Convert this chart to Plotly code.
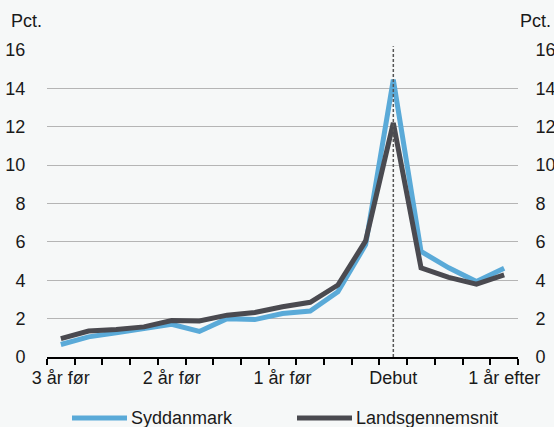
import plotly.graph_objects as go

# Data
x_idx = list(range(17))
tick_pos = [0, 4, 8, 12, 16]
tick_labels = ["3 år før", "2 år før", "1 år før", "Debut", "1 år efter"]
syddanmark = [0.65, 1.05, 1.26, 1.45, 1.7, 1.33, 2.0, 1.95, 2.27, 2.4, 3.4, 5.85, 14.45, 5.5, 4.65, 3.93, 4.63]
landsgennemsnit = [0.96, 1.35, 1.43, 1.57, 1.9, 1.88, 2.18, 2.32, 2.62, 2.85, 3.75, 6.05, 12.2, 4.65, 4.15, 3.8, 4.28]
y_ticks = [0, 2, 4, 6, 8, 10, 12, 14, 16]

BLUE = "#5aaad8"
DARK = "#4a4a50"
BG = "#f6f8f8"
FONT = "Liberation Sans, Arial, sans-serif"

fig = go.Figure()
fig.add_trace(go.Scatter(x=x_idx, y=syddanmark, mode="lines", name="Syddanmark",
                         line=dict(color=BLUE, width=5), showlegend=False))
fig.add_trace(go.Scatter(x=x_idx, y=landsgennemsnit, mode="lines", name="Landsgennemsnit",
                         line=dict(color=DARK, width=5), showlegend=False))
# invisible trace to activate right axis
fig.add_trace(go.Scatter(x=x_idx, y=landsgennemsnit, yaxis="y2", mode="lines",
                         line=dict(color="rgba(0,0,0,0)", width=0), showlegend=False, hoverinfo="skip"))

L, R, T, B = 47, 36, 50, 70
W, H = 554, 427
pw = W - L - R
ph = H - T - B

def px2paper_x(px):
    return (px - L) / pw

def py2paper_y(py):
    return (H - B - py) / ph

fig.update_layout(
    width=W, height=H,
    margin=dict(l=L, r=R, t=T, b=B),
    paper_bgcolor=BG, plot_bgcolor=BG,
    font=dict(family=FONT, size=18, color="#1a1a1a"),
    xaxis=dict(range=[-0.5, 16.5], tickmode="array", tickvals=tick_pos, ticktext=tick_labels,
               ticks="outside", ticklen=3, tickcolor="rgba(0,0,0,0)", automargin=False,
               showgrid=False, zeroline=False, showline=True, linecolor="black", linewidth=2,
               minor=dict(tickmode="array", tickvals=[i - 0.5 for i in range(18)],
                          ticks="outside", ticklen=6, tickcolor="black", tickwidth=1.5, showgrid=False)),
    yaxis=dict(range=[0, 16], tickvals=y_ticks, showgrid=True, gridcolor="#b5b5b5", gridwidth=1,
               automargin=False,
               zeroline=False, showline=False, ticks="outside", ticklen=17, tickcolor="rgba(0,0,0,0)"),
    yaxis2=dict(range=[0, 16], tickvals=y_ticks, overlaying="y", side="right", showgrid=False,
                automargin=False,
                zeroline=False, showline=False, ticks="outside", ticklen=13, tickcolor="rgba(0,0,0,0)"),
    showlegend=False,
)

# Debut dashed line
fig.add_shape(type="line", xref="x", yref="paper", x0=12, x1=12, y0=0, y1=1.012,
              line=dict(color="#555555", width=1.5, dash="3px,2px"))

# Pct. labels
fig.add_annotation(text="Pct.", xref="paper", yref="paper", x=px2paper_x(9), y=py2paper_y(21),
                   xanchor="left", yanchor="middle", showarrow=False)
fig.add_annotation(text="Pct.", xref="paper", yref="paper", x=px2paper_x(553), y=py2paper_y(21),
                   xanchor="right", yanchor="middle", showarrow=False)

# Legend (manual)
leg_y = py2paper_y(418)
fig.add_shape(type="line", xref="paper", yref="paper", x0=px2paper_x(72), x1=px2paper_x(127),
              y0=leg_y, y1=leg_y, line=dict(color=BLUE, width=5))
fig.add_annotation(text="Syddanmark", xref="paper", yref="paper", x=px2paper_x(129), y=leg_y,
                   xanchor="left", yanchor="middle", showarrow=False)
fig.add_shape(type="line", xref="paper", yref="paper", x0=px2paper_x(297), x1=px2paper_x(352),
              y0=leg_y, y1=leg_y, line=dict(color=DARK, width=5))
fig.add_annotation(text="Landsgennemsnit", xref="paper", yref="paper", x=px2paper_x(354), y=leg_y,
                   xanchor="left", yanchor="middle", showarrow=False)

fig.write_html("out.html", config={"displayModeBar": False},
               post_script="document.body.style.margin='0';document.body.style.background='" + BG + "';")
